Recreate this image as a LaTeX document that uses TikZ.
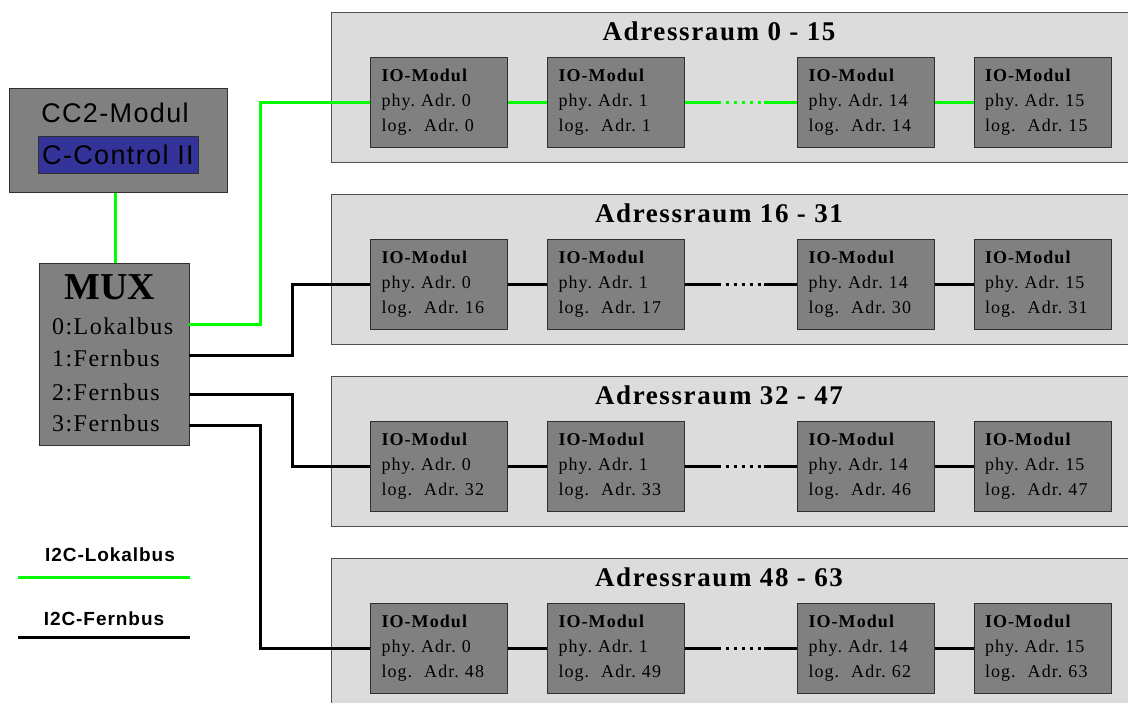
\documentclass[tikz,border=0pt]{standalone}
\usepackage{fontspec}
\setmainfont{Liberation Serif}
\setsansfont{Liberation Sans}
\newfontfamily\wideserif[LetterSpace=6]{Liberation Serif}
\newfontfamily\widesans[LetterSpace=5]{Liberation Sans}
\definecolor{spacefill}{HTML}{DCDCDC}
\definecolor{spacedraw}{HTML}{505050}
\definecolor{modfill}{HTML}{808080}
\definecolor{moddraw}{HTML}{303030}
\definecolor{cpublue}{HTML}{333399}
\definecolor{lokal}{HTML}{00FF00}
\tikzset{
  spacebox/.style={draw=spacedraw, fill=spacefill, line width=1.3pt},
  iomod/.style={draw=moddraw, fill=modfill, line width=1pt, minimum width=137pt, minimum height=90pt,
     text width=115pt, align=left, inner xsep=11pt, font=\wideserif\fontsize{18}{25}\selectfont},
  spacetitle/.style={font=\wideserif\fontsize{27}{30}\selectfont\bfseries},
  bus/.style={line width=3pt},
  dotbus/.style={line width=3pt, dash pattern=on 3pt off 5pt},
  legtext/.style={font=\widesans\bfseries\fontsize{19}{21}\selectfont},
  muxline/.style={font=\wideserif\fontsize{24}{26}\selectfont, anchor=base west, inner sep=0pt},
}
\begin{document}
\frenchspacing
\begin{tikzpicture}[x=1pt,y=-1pt]
\useasboundingbox (0,0) rectangle (1128,702);
\begin{scope}
\clip (0,0) rectangle (1128,702);
\foreach \r/\a/\b/\base/\col in {0/0/15/0/lokal, 1/16/31/16/black, 2/32/47/32/black, 3/48/63/48/black}{
  \pgfmathsetmacro{\top}{12+182*\r}
  \pgfmathsetmacro{\cy}{\top+90}
  \pgfmathtruncatemacro{\la}{\base}
  \pgfmathtruncatemacro{\lb}{\base+1}
  \pgfmathtruncatemacro{\lc}{\base+14}
  \pgfmathtruncatemacro{\ld}{\base+15}
  \node[spacebox, anchor=north west, minimum width=860pt, minimum height=150pt, inner sep=0pt] (s\r) at (331,\top) {};
  \node[spacetitle] (t\r) at (719,\top+19) {Adressraum \a\ - \b};
  \node[iomod] (m\r-1) at (439,\cy) {\textbf{IO-Modul}\\phy. Adr. 0\\log.\ \ Adr. \la};
  \node[iomod, minimum width=136pt] (m\r-2) at (616,\cy) {\textbf{IO-Modul}\\phy. Adr. 1\\log.\ \ Adr. \lb};
  \node[iomod, minimum width=136pt] (m\r-3) at (866,\cy) {\textbf{IO-Modul}\\phy. Adr. 14\\log.\ \ Adr. \lc};
  \node[iomod] (m\r-4) at (1042.5,\cy) {\textbf{IO-Modul}\\phy. Adr. 15\\log.\ \ Adr. \ld};
  \coordinate (d\r a) at ([xshift=33pt]m\r-2.east);
  \coordinate (d\r b) at ([xshift=-33pt]m\r-3.west);
  \draw[bus, \col] (m\r-1.east) -- (m\r-2.west);
  \draw[bus, \col] (m\r-2.east) -- (d\r a);
  \draw[dotbus, \col] (d\r a) -- (d\r b);
  \draw[bus, \col] (d\r b) -- (m\r-3.west);
  \draw[bus, \col] (m\r-3.east) -- (m\r-4.west);
}
\end{scope}
% CC2 module
\node[draw=moddraw, fill=modfill, line width=1pt, anchor=north west, minimum width=218pt, minimum height=104pt, inner sep=0pt] (cc2) at (9,88) {};
\node[font=\widesans\fontsize{27}{29}\selectfont] (cc2t) at (115,113) {CC2-Modul};
\node[draw=moddraw, fill=cpublue, line width=1pt, minimum width=160pt, minimum height=37pt, inner sep=0pt,
      font=\widesans\fontsize{27}{29}\selectfont, text=black] (cpu) at (118,154.5) {C-Control II};
% MUX
\node[draw=moddraw, fill=modfill, line width=1pt, anchor=north west, minimum width=150pt, minimum height=182pt, inner sep=0pt] (mux) at (39,263) {};
\node[font=\fontsize{38}{40}\selectfont\bfseries] (muxt) at (110,287) {MUX};
\node[muxline] (l0) at (52,334) {0:Lokalbus};
\node[muxline] (l1) at (52,366) {1:Fernbus};
\node[muxline] (l2) at (52,400) {2:Fernbus};
\node[muxline] (l3) at (52,431) {3:Fernbus};
\coordinate (p0) at (189,324);
\coordinate (p1) at (189,355);
\coordinate (p2) at (189,394);
\coordinate (p3) at (189,425);
\draw[bus, lokal] (cc2.south -| 115,0) -- (mux.north -| 115,0);
\draw[bus, lokal] (p0) -- ++(71,0) |- (m0-1.west);
\draw[bus] (p1) -- ++(103,0) |- (m1-1.west);
\draw[bus] (p2) -- ++(103,0) |- (m2-1.west);
\draw[bus] (p3) -- ++(71,0) |- (m3-1.west);
% legend
\node[legtext] (leg1) at (110,555) {I2C-Lokalbus};
\coordinate (la1) at (18,577);
\coordinate (la2) at (190,577);
\draw[bus, lokal] (la1) -- (la2);
\node[legtext] (leg2) at (104,619) {I2C-Fernbus};
\coordinate (lb1) at (18,637);
\coordinate (lb2) at (190,637);
\draw[bus] (lb1) -- (lb2);
\end{tikzpicture}
\end{document}
